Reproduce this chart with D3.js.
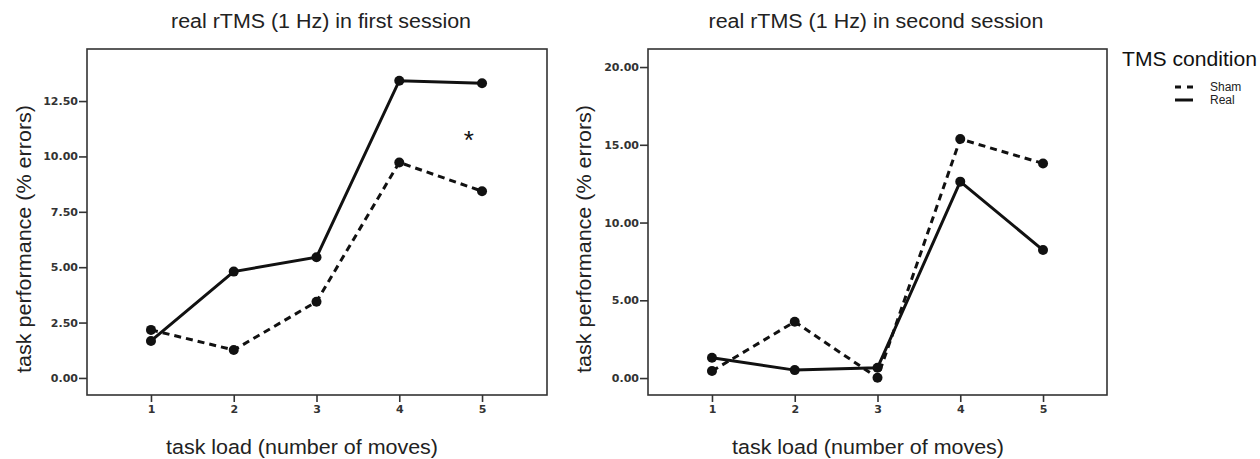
<!DOCTYPE html>
<html>
<head>
<meta charset="utf-8">
<script src="https://cdn.jsdelivr.net/npm/d3@7"></script>
<style>
  html, body { margin: 0; padding: 0; background: #fff; }
  svg { display: block; }
</style>
</head>
<body>
<svg id="chart" width="1260" height="459"></svg>
<script>
// ---- data ----
const loads = [1, 2, 3, 4, 5];
const firstSham = [2.17, 1.26, 3.44, 9.73, 8.43];
const firstReal = [1.67, 4.80, 5.45, 13.42, 13.30];
const secondSham = [0.45, 3.62, 0.02, 15.37, 13.80];
const secondReal = [1.31, 0.51, 0.66, 12.63, 8.23];
const yTicksFirst = [0, 2.5, 5, 7.5, 10, 12.5];
const yTicksSecond = [0, 5, 10, 15, 20];
const titles = ["real rTMS (1 Hz) in first session", "real rTMS (1 Hz) in second session"];
const xLabel = "task load (number of moves)";
const yLabel = "task performance (% errors)";
const legendTitle = "TMS condition";
const legendItems = ["Sham", "Real"];

const svg = d3.select("#chart");
const ink = "#111";
const sans = "Liberation Sans, Arial, sans-serif";

const panels = [
  { title: titles[0], sham: firstSham, real: firstReal, yTicks: yTicksFirst,
    x0: 87, x1: 547, xDom: [0.227, 5.785], yDom: [-0.77, 14.85],
    titleX: 321, titleW: 300, xLabX: 302, yLabX: 23, star: { load: 4.84, val: 10.9 } },
  { title: titles[1], sham: secondSham, real: secondReal, yTicks: yTicksSecond,
    x0: 648, x1: 1107, xDom: [0.227, 5.773], yDom: [-1.09, 21.16],
    titleX: 876, titleW: 335, xLabX: 868, yLabX: 583, star: null }
];
const plotTop = 49, plotBottom = 395;

panels.forEach(p => {
  const x = d3.scaleLinear().domain(p.xDom).range([p.x0, p.x1]);
  const y = d3.scaleLinear().domain(p.yDom).range([plotBottom, plotTop]);
  const g = svg.append("g");

  // frame
  g.append("rect")
    .attr("x", p.x0).attr("y", plotTop)
    .attr("width", p.x1 - p.x0).attr("height", plotBottom - plotTop)
    .attr("fill", "none").attr("stroke", "#333").attr("stroke-width", 1.6);

  // axes
  const ya = g.append("g").attr("transform", `translate(${p.x0},0)`)
    .call(d3.axisLeft(y).tickValues(p.yTicks).tickFormat(d3.format(".2f"))
      .tickSize(8).tickSizeOuter(0).tickPadding(1));
  const xa = g.append("g").attr("transform", `translate(0,${plotBottom})`)
    .call(d3.axisBottom(x).tickValues(loads).tickFormat(d3.format("d"))
      .tickSize(7).tickSizeOuter(0).tickPadding(3));
  [ya, xa].forEach(a => {
    a.select(".domain").remove();
    a.selectAll(".tick line").attr("stroke", "#333").attr("stroke-width", 1.6);
    a.selectAll(".tick text")
      .attr("font-family", "DejaVu Sans, sans-serif")
      .attr("font-weight", "bold")
      .attr("font-size", 11)
      .attr("fill", "#333");
  });

  // lines
  const line = d3.line().x((d, i) => x(loads[i])).y(d => y(d));
  g.append("path").datum(p.sham).attr("d", line)
    .attr("fill", "none").attr("stroke", ink).attr("stroke-width", 3)
    .attr("stroke-dasharray", "7,5");
  g.append("path").datum(p.real).attr("d", line)
    .attr("fill", "none").attr("stroke", ink).attr("stroke-width", 3);

  [p.sham, p.real].forEach(s => {
    g.selectAll(null).data(s).enter().append("circle")
      .attr("cx", (d, i) => x(loads[i])).attr("cy", d => y(d))
      .attr("r", 5).attr("fill", ink);
  });

  if (p.star) {
    g.append("text").attr("x", x(p.star.load)).attr("y", y(p.star.val) + 13)
      .attr("text-anchor", "middle")
      .attr("font-family", sans)
      .attr("font-size", 26).attr("fill", ink).text("*");
  }

  // titles and labels
  g.append("text").attr("x", p.titleX).attr("y", 28)
    .attr("text-anchor", "middle")
    .attr("font-family", sans)
    .attr("font-size", 19.5).attr("fill", "#222")
    .attr("textLength", p.titleW).attr("lengthAdjust", "spacingAndGlyphs")
    .text(p.title);
  g.append("text").attr("x", p.xLabX).attr("y", 454)
    .attr("text-anchor", "middle")
    .attr("font-family", sans)
    .attr("font-size", 20.5).attr("fill", "#222")
    .attr("textLength", 272).attr("lengthAdjust", "spacingAndGlyphs")
    .text(xLabel);
  g.append("text")
    .attr("transform", `translate(${p.yLabX},239) rotate(-90)`)
    .attr("text-anchor", "middle").attr("dominant-baseline", "central")
    .attr("font-family", sans)
    .attr("font-size", 21).attr("fill", "#222")
    .attr("textLength", 268).attr("lengthAdjust", "spacingAndGlyphs")
    .text(yLabel);
});

// legend
const lg = svg.append("g");
lg.append("text").attr("x", 1122).attr("y", 66)
  .attr("font-family", sans)
  .attr("font-size", 20).attr("fill", "#111")
  .attr("textLength", 135).attr("lengthAdjust", "spacingAndGlyphs")
  .text(legendTitle);
legendItems.forEach((name, i) => {
  const yy = 87 + i * 13;
  lg.append("line").attr("x1", 1175).attr("x2", 1193).attr("y1", yy).attr("y2", yy)
    .attr("stroke", ink).attr("stroke-width", 3)
    .attr("stroke-dasharray", i === 0 ? "6,6" : null);
  lg.append("text").attr("x", 1210).attr("y", yy + 4)
    .attr("font-family", sans)
    .attr("font-size", 12).attr("fill", "#222").text(name);
});
</script>
</body>
</html>
